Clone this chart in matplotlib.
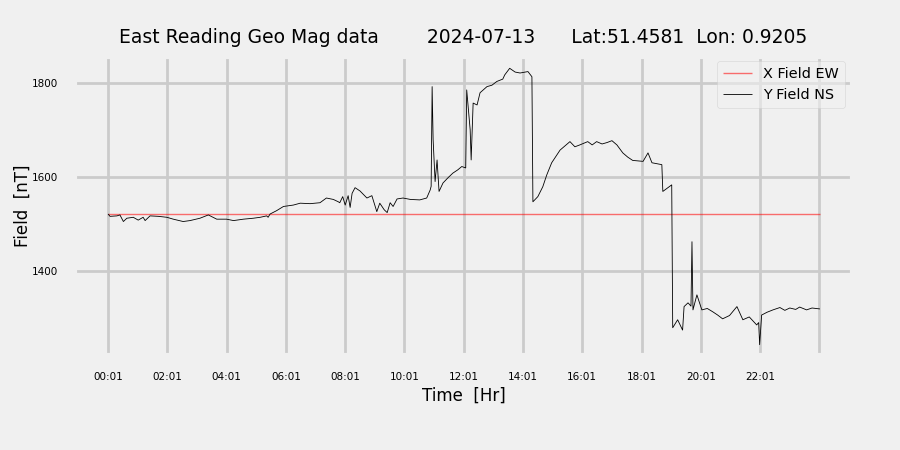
import matplotlib
matplotlib.use('Agg')
import matplotlib.pyplot as plt

# minutes after 00:01 and Y field NS values
y_minutes = [0, 4, 18, 24, 31, 38, 51, 61, 71, 75, 85, 102, 119, 132, 152, 166, 186,
             203, 220, 240, 254, 274, 294, 308, 321, 324, 328, 341, 355, 375, 389,
             409, 429, 442, 456, 466, 469, 475, 480, 486, 490, 494, 500, 510,
             524, 534, 544, 550, 559, 565, 571, 577, 585, 597, 612, 631, 645, 652, 654,
             656, 658, 662, 666, 670, 678, 688, 698, 708, 716, 724, 726, 733, 735,
             739, 747, 753, 767, 777, 787, 799, 803, 813, 824, 834, 850, 858, 860,
             870, 880, 888, 898, 915, 935, 945, 955, 971, 980, 989, 1000, 1010, 1020,
             1030, 1042, 1052, 1062, 1083, 1093, 1101, 1121, 1123, 1141, 1143, 1153,
             1163, 1166, 1174, 1180, 1182, 1184, 1192, 1202, 1213, 1224, 1234, 1244,
             1258, 1273, 1285, 1298, 1313, 1317, 1319, 1323, 1334, 1346, 1360, 1370,
             1380, 1392, 1400, 1414, 1425, 1441]
y_field = [1521, 1516, 1517, 1519, 1505, 1512, 1514, 1508, 1514, 1507, 1517, 1516,
           1514, 1510, 1505, 1507, 1512, 1519, 1510, 1510, 1507, 1510, 1512, 1514,
           1517, 1514, 1521, 1528, 1537, 1540, 1544, 1543, 1545, 1555, 1552, 1547,
           1545, 1558, 1540, 1560, 1535, 1565, 1577, 1570, 1555, 1560, 1526, 1544,
           1530, 1524, 1545, 1537, 1553, 1555, 1552, 1551, 1555, 1572, 1580, 1792,
           1679, 1590, 1636, 1569, 1587, 1598, 1608, 1615, 1622, 1619, 1785, 1700,
           1636, 1757, 1753, 1779, 1792, 1795, 1803, 1808, 1817, 1831, 1823, 1821,
           1824, 1813, 1547, 1558, 1579, 1604, 1630, 1657, 1675, 1664, 1668, 1675,
           1668, 1675, 1670, 1673, 1677, 1668, 1651, 1642, 1635, 1633, 1651, 1630,
           1626, 1569, 1583, 1279, 1296, 1274, 1324, 1332, 1325, 1462, 1317, 1349,
           1317, 1320, 1313, 1306, 1298, 1305, 1324, 1296, 1302, 1285, 1290, 1243,
           1306, 1312, 1317, 1322, 1316, 1321, 1318, 1323, 1317, 1321, 1319]

# X field EW is flat across the day
x_minutes = [0, 1441]
x_field = [1521, 1521]

tick_minutes = [0, 120, 240, 360, 480, 600, 720, 840, 960, 1080, 1200, 1320, 1440]
tick_labels = ['00:01', '02:01', '04:01', '06:01', '08:01', '10:01', '12:01',
               '14:01', '16:01', '18:01', '20:01', '22:01', '']

plt.style.use('fivethirtyeight')
plt.rcParams['font.family'] = 'DejaVu Sans'

fig = plt.figure(figsize=(9, 4.5), dpi=100)
ax = fig.add_axes([0.0833, 0.2111, 0.8634, 0.6622])

ax.plot(x_minutes, x_field, color='red', lw=1, alpha=0.55, label='X Field EW')
ax.plot(y_minutes, y_field, color='black', lw=0.6, label='Y Field NS')

ax.set_xlim(-67, 1506)
ax.set_ylim(1221, 1855)
ax.set_yticks([1400, 1600, 1800])
ax.set_xticks(tick_minutes)
ax.set_xticklabels(tick_labels)
ax.tick_params(axis='both', labelsize=7.5)
ax.tick_params(axis='x', pad=12)
ax.tick_params(axis='y', pad=12)
ax.grid(True, color='#cbcbcb', lw=2)

ax.set_xlabel('Time  [Hr]', fontsize=12)
ax.set_ylabel('Field  [nT]', fontsize=12, labelpad=0)
ax.set_title('East Reading Geo Mag data        2024-07-13      Lat:51.4581  Lon: 0.9205',
             fontsize=13.5, pad=10)
ax.legend(loc='upper right', fontsize=10.4, framealpha=0.6,
          bbox_to_anchor=(1.0, 1.01))

fig.savefig('out.png', dpi=100, facecolor='#f0f0f0')
